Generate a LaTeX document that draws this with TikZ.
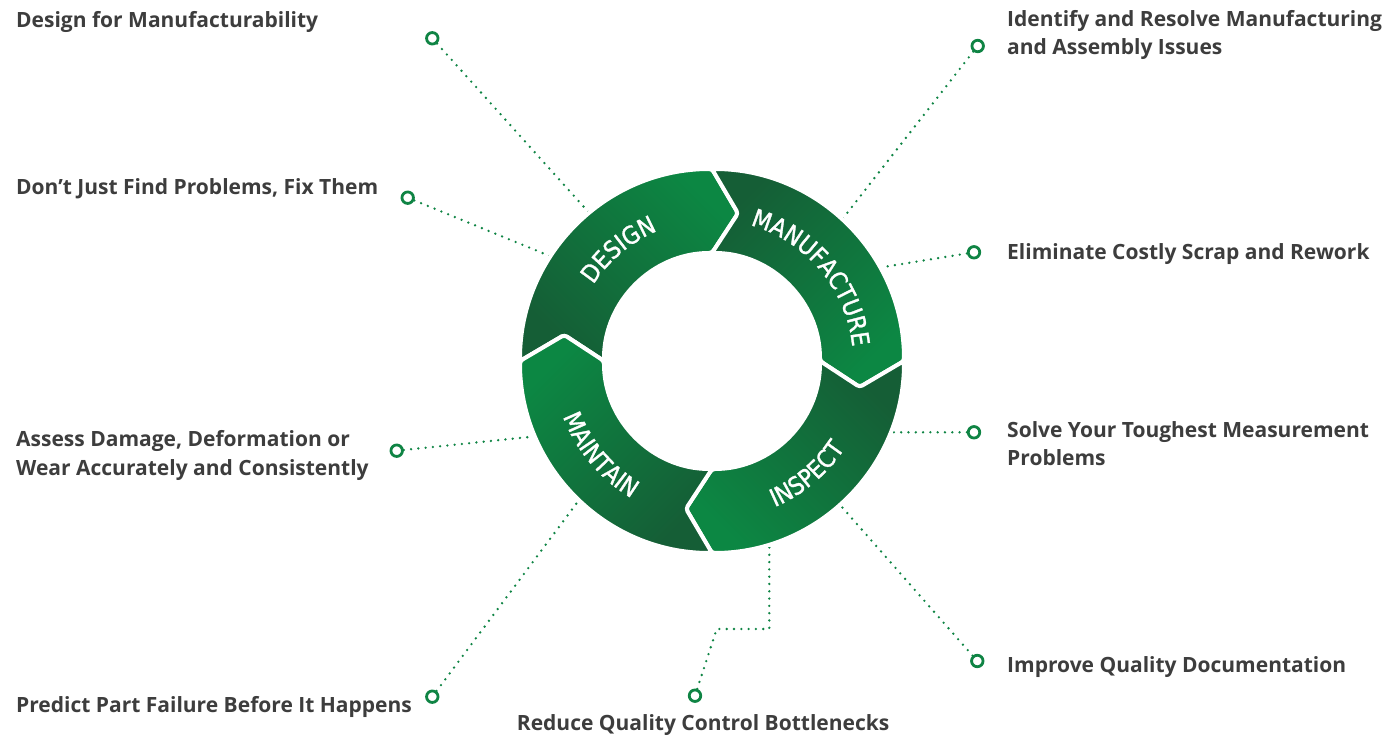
\documentclass[tikz,border=0pt]{standalone}
\usepackage{fontspec}
\setmainfont{Open Sans}
\newfontfamily\ringfont{DejaVu Sans Condensed}[FakeBold=1.3]
\usetikzlibrary{decorations.text}
\definecolor{ringdark}{HTML}{155E36}
\definecolor{ringlight}{HTML}{0C8743}
\definecolor{leadgreen}{HTML}{0F8444}
\definecolor{labelgray}{HTML}{3D3D3D}
\tikzset{
	marker/.style={circle, draw=leadgreen, fill=white, line width=2.8pt, inner sep=0pt, minimum size=11.5pt},
	leader/.style={draw=leadgreen, line width=2.6pt, line cap=round, dash pattern=on 0pt off 7.3pt},
	topic/.style={anchor=base west, inner sep=0pt, text=labelgray, font=\fontsize{21}{28.5}\selectfont\bfseries, align=left},
}
\begin{document}
\begin{tikzpicture}[x=1pt, y=1pt, declare function={rin=108; rout=192; rmid=150;}, line join=round]
	\useasboundingbox (-712,-375) rectangle (686,361);
	% markers and their ends on the ring
	\node[marker] (d1) at (-279.7,322.7) {};
	\node[marker] (d2) at (-304.3,163.3) {};
	\node[marker] (d3) at (-315.3,-89.7) {};
	\node[marker] (d4) at (-279.7,-335.7) {};
	\node[marker] (d5) at (-17,-334.7) {};
	\node[marker] (d6) at (265.3,-300) {};
	\node[marker] (d7) at (262,-71.3) {};
	\node[marker] (d8) at (262,108.7) {};
	\node[marker] (d9) at (265.7,315) {};
	\coordinate (e1) at (129.5:180);
	\coordinate (e2) at (146.3:180);
	\coordinate (e3) at (204.3:180);
	\coordinate (e4) at (225.8:180);
	\coordinate (k5) at (4.7,-268);
	\coordinate (e5) at (57.3,-170);
	\coordinate (e6) at (-48.3:180);
	\coordinate (e7) at (160,-71.3);
	\coordinate (e8) at (30.5:180);
	\coordinate (e9) at (47.1:180);
	\foreach \i in {1,2,3,4,6,7,8,9}
		\draw[leader] (d\i) -- (e\i);
	\draw[leader] (d5) -- (k5) -- (k5 -| e5) -- (e5);
	% ring
	\foreach \s/\word/\rb/\a/\b [evaluate=\s as \ang using \s-225] in {180/DESIGN/141/-5/-95, 90/MANUFACTURE/141/-5/-95, 0/INSPECT/159/-95/-5, -90/MAINTAIN/159/-95/-5} {
		\shadedraw[top color=ringlight, bottom color=ringdark, shading angle=\ang, draw=white, line width=4pt, rounded corners=3pt]
			(\s:rout) arc[start angle=\s, end angle=\s-90, radius=rout] -- (\s-100:rmid) -- (\s-90:rin)
			arc[start angle=\s-90, end angle=\s, radius=rin] -- (\s-10:rmid) -- cycle;
		\path[decorate, decoration={text along path, text align=center, text color=white,
			text={|\ringfont\fontsize{24.5}{24.5}\selectfont|\word}}]
			(\s+\a:\rb) arc[start angle=\s+\a, end angle=\s+\b, radius=\rb];
	}
	% topics
	\node[topic] (t1) at (-696,333.7) {Design for Manufacturability};
	\node[topic] (t2) at (-696,166.7) {Don’t Just Find Problems, Fix Them};
	\node[topic] (t3) at (-696,-114) {Assess Damage, Deformation or\\Wear Accurately and Consistently};
	\node[topic] (t4) at (-696,-351) {Predict Part Failure Before It Happens};
	\node[topic] (t5) at (-195.3,-369) {Reduce Quality Control Bottlenecks};
	\node[topic] (t6) at (295,-311) {Improve Quality Documentation};
	\node[topic] (t7) at (295,-105) {Solve Your Toughest Measurement\\Problems};
	\node[topic] (t8) at (295,101) {Eliminate Costly Scrap and Rework};
	\node[topic] (t9) at (295,306) {Identify and Resolve Manufacturing\\and Assembly Issues};
\end{tikzpicture}
\end{document}
